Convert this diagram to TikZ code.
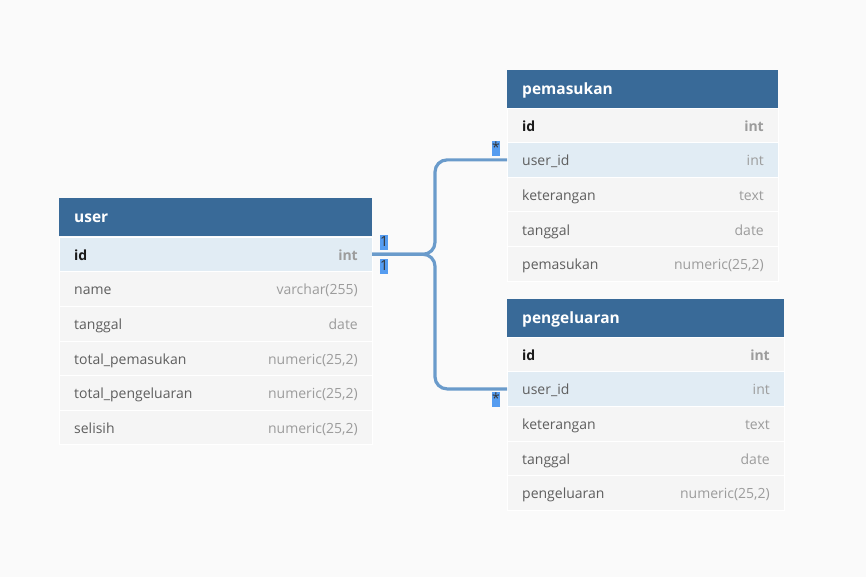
\documentclass[tikz,border=0pt]{standalone}
\usepackage{fontspec}
\setmainfont{Open Sans}
\definecolor{bgpage}{HTML}{FAFAFA}
\definecolor{headblue}{HTML}{396A98}
\definecolor{rowgray}{HTML}{F5F5F5}
\definecolor{rowblue}{HTML}{E1ECF4}
\definecolor{linkblue}{HTML}{6A9BCB}
\definecolor{cardblue}{HTML}{559CF0}
\definecolor{fieldgray}{HTML}{5E5E5E}
\definecolor{typegray}{HTML}{9C9C9C}
\definecolor{keyblack}{HTML}{1A1A1A}

\tikzset{
  tblhead/.style={fill=headblue, anchor=north west, minimum height=38, inner sep=0, outer sep=0},
  tblrow/.style={fill=rowgray, draw=white, line width=0.6pt, anchor=north west, minimum height=34.6, inner sep=0, outer sep=0},
  headtxt/.style={anchor=west, xshift=15, yshift=-1, text=white, inner sep=0, font=\bfseries\fontsize{15.5}{18}\selectfont},
  fieldtxt/.style={anchor=base west, xshift=15, yshift=-6, inner sep=0, text=fieldgray, font=\fontsize{14}{16}\selectfont},
  typetxt/.style={anchor=base east, xshift=-14, yshift=-6, inner sep=0, text=typegray, font=\fontsize{14}{16}\selectfont},
  keytxt/.style={fieldtxt, text=keyblack, font=\bfseries\fontsize{14}{16}\selectfont},
  keytype/.style={typetxt, font=\bfseries\fontsize{14}{16}\selectfont},
  rel/.style={draw=linkblue, line width=3.2, rounded corners=12},
  card/.style={fill=cardblue, text=black!80, inner sep=0, minimum width=7, minimum height=15, text height=10, text depth=2, font=\fontsize{14}{14}\selectfont}
}

\begin{document}
\begin{tikzpicture}[x=1pt, y=-1pt]
  \useasboundingbox[fill=bgpage] (0,0) rectangle (866,577);

  % table user
  \node[tblhead, minimum width=313] (user) at (59,198) {};
  \node[headtxt] (user-h) at (user.west) {user};
  \node[tblrow, fill=rowblue, minimum width=313] (user-0) at (59,237) {};
  \node[keytxt] (user-0-f) at (user-0.west) {id};
  \node[keytype] (user-0-t) at (user-0.east) {int};
  \foreach \f/\t [count=\i] in {name/varchar(255), tanggal/date, total\_pemasukan/{numeric(25,2)}, total\_pengeluaran/{numeric(25,2)}, selisih/{numeric(25,2)}}{
    \node[tblrow, minimum width=313] (user-\i) at (59,{237+34.6*\i}) {};
    \node[fieldtxt] (user-\i-f) at (user-\i.west) {\f};
    \node[typetxt] (user-\i-t) at (user-\i.east) {\t};
  }

  % table pemasukan
  \node[tblhead, minimum width=271] (pm) at (507,70) {};
  \node[headtxt] (pm-h) at (pm.west) {pemasukan};
  \node[tblrow, minimum width=271] (pm-0) at (507,108) {};
  \node[keytxt] (pm-0-f) at (pm-0.west) {id};
  \node[keytype] (pm-0-t) at (pm-0.east) {int};
  \node[tblrow, fill=rowblue, minimum width=271] (pm-1) at (507,142.6) {};
  \node[fieldtxt] (pm-1-f) at (pm-1.west) {user\_id};
  \node[typetxt] (pm-1-t) at (pm-1.east) {int};
  \foreach \f/\t [count=\i from 2] in {keterangan/text, tanggal/date, pemasukan/{numeric(25,2)}}{
    \node[tblrow, minimum width=271] (pm-\i) at (507,{108+34.6*\i}) {};
    \node[fieldtxt] (pm-\i-f) at (pm-\i.west) {\f};
    \node[typetxt] (pm-\i-t) at (pm-\i.east) {\t};
  }

  % table pengeluaran
  \node[tblhead, minimum width=277] (pg) at (507,299) {};
  \node[headtxt] (pg-h) at (pg.west) {pengeluaran};
  \node[tblrow, minimum width=277] (pg-0) at (507,337) {};
  \node[keytxt] (pg-0-f) at (pg-0.west) {id};
  \node[keytype] (pg-0-t) at (pg-0.east) {int};
  \node[tblrow, fill=rowblue, minimum width=277] (pg-1) at (507,371.6) {};
  \node[fieldtxt] (pg-1-f) at (pg-1.west) {user\_id};
  \node[typetxt] (pg-1-t) at (pg-1.east) {int};
  \foreach \f/\t [count=\i from 2] in {keterangan/text, tanggal/date, pengeluaran/{numeric(25,2)}}{
    \node[tblrow, minimum width=277] (pg-\i) at (507,{337+34.6*\i}) {};
    \node[fieldtxt] (pg-\i-f) at (pg-\i.west) {\f};
    \node[typetxt] (pg-\i-t) at (pg-\i.east) {\t};
  }

  % relations
  \coordinate (split) at ([xshift=63]user-0.east);
  \draw[rel] (user-0.east) -- (split) |- (pm-1.west);
  \draw[rel] (user-0.east) -- (split) |- (pg-1.west);

  % cardinality
  \node[card, anchor=south west] (c-u1) at ([xshift=8,yshift=4]user-0.east) {1};
  \node[card, anchor=north west] (c-u2) at ([xshift=8,yshift=-4]user-0.east) {1};
  \node[card, anchor=south east] (c-pm) at ([xshift=-7,yshift=4]pm-1.west) {*};
  \node[card, anchor=north east] (c-pg) at ([xshift=-7,yshift=-3]pg-1.west) {*};
\end{tikzpicture}
\end{document}
